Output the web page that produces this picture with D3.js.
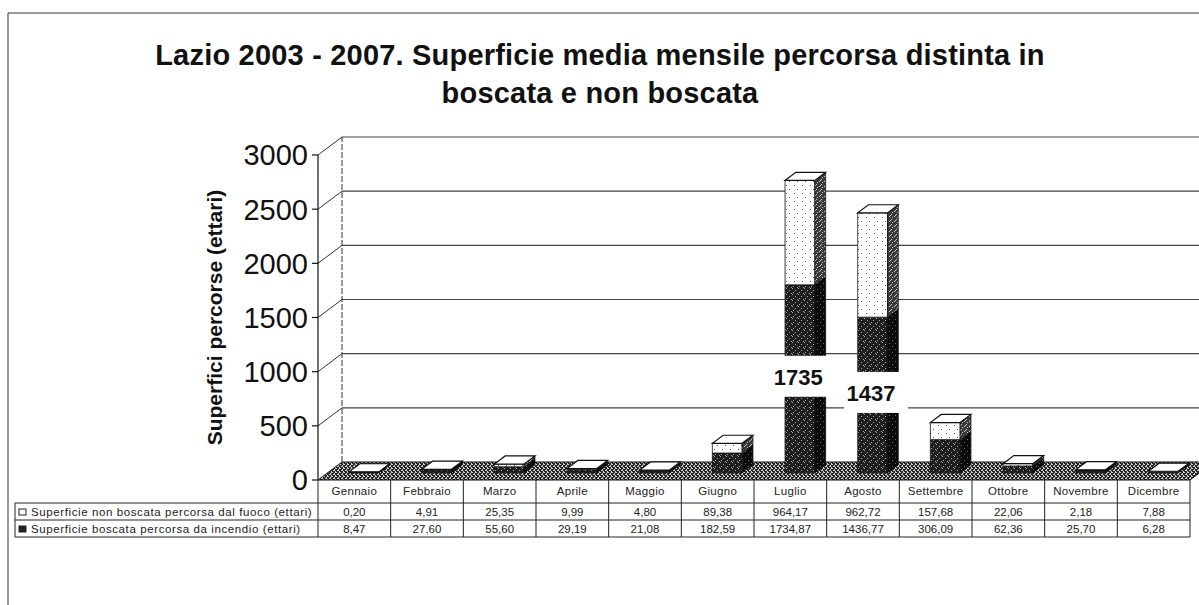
<!DOCTYPE html>
<html>
<head>
<meta charset="utf-8">
<script src="https://cdn.jsdelivr.net/npm/d3@7"></script>
<style>
  body { margin: 0; background: #fff; }
  svg { display: block; }
  text { font-family: "Liberation Sans", Arial, Helvetica, sans-serif; }
</style>
</head>
<body>
<svg id="chart" width="1199" height="605"></svg>
<script>
// Monthly burnt area, Lazio 2003-2007 (hectares)
const months = ["Gennaio", "Febbraio", "Marzo", "Aprile", "Maggio", "Giugno",
                "Luglio", "Agosto", "Settembre", "Ottobre", "Novembre", "Dicembre"];
const nonBoscata = [0.20, 4.91, 25.35, 9.99, 4.80, 89.38, 964.17, 962.72, 157.68, 22.06, 2.18, 7.88];
const boscata    = [8.47, 27.60, 55.60, 29.19, 21.08, 182.59, 1734.87, 1436.77, 306.09, 62.36, 25.70, 6.28];
const yTicks = [0, 500, 1000, 1500, 2000, 2500, 3000];
const seriesNames = [
  "Superficie non boscata percorsa dal fuoco (ettari)",
  "Superficie boscata percorsa da incendio (ettari)"
];
const labelledMonths = ["Luglio", "Agosto"];
const titleLines = [
  "Lazio 2003 - 2007. Superficie media mensile percorsa distinta in",
  "boscata e non boscata"
];
const yAxisTitle = "Superfici percorse (ettari)";

const svg = d3.select("#chart");
const W = 1199, H = 605;

// 3D projection: depth offset from front plane to back wall
const DX = 24, DY = -18;
const proj = (x, y, t) => [x + DX * t, y + DY * t];

const x = d3.scaleBand().domain(months).range([318, 1190]).paddingInner(0).paddingOuter(0);
const y = d3.scaleLinear().domain([0, 3000]).range([480, 155]);
const itFmt = v => d3.format(".2f")(v).replace(".", ",");

// ---------- patterns (dithered greys) ----------
const defs = svg.append("defs");
function dither(id, bg, fg, dots, size) {
  const p = defs.append("pattern").attr("id", id).attr("patternUnits", "userSpaceOnUse")
    .attr("width", size).attr("height", size);
  p.append("rect").attr("width", size).attr("height", size).attr("fill", bg);
  dots.forEach(([a, b]) => p.append("rect").attr("x", a).attr("y", b).attr("width", 1).attr("height", 1).attr("fill", fg));
}
dither("floorPat", "#262626", "#cfcfcf", [[0,0],[2,1],[1,2],[3,3],[3,0],[2,2]], 4);
dither("darkFront", "#1e1e1e", "#a8a8a8", [[0,0],[3,2],[5,5],[1,4]], 6);
dither("darkSide", "#0a0a0a", "#6a6a6a", [[1,1],[4,4]], 6);
dither("lightFront", "#ffffff", "#555", [[2,1],[5,5]], 8);
dither("lightSide", "#3a3a3a", "#c8c8c8", [[0,0],[2,2],[1,4],[4,1]], 5);

// ---------- frame ----------
svg.append("line").attr("x1", 8).attr("y1", 13).attr("x2", W).attr("y2", 13)
  .attr("stroke", "#333").attr("stroke-width", 1);
svg.append("line").attr("x1", 8).attr("y1", 13).attr("x2", 8).attr("y2", H)
  .attr("stroke", "#333").attr("stroke-width", 1);

// ---------- title ----------
svg.append("g").selectAll("text").data(titleLines).join("text")
  .attr("x", 600).attr("y", (d, i) => 65 + i * 38)
  .attr("text-anchor", "middle").attr("font-weight", "bold").attr("font-size", 29)
  .attr("letter-spacing", 0.2).attr("fill", "#111").text(d => d);

// ---------- walls & gridlines ----------
const x0 = x.range()[0], x1 = x.range()[1];
const walls = svg.append("g");
// back wall gridlines
walls.selectAll("line.grid").data(yTicks.filter(v => v > 0)).join("line")
  .attr("x1", d => proj(x0, y(d), 1)[0]).attr("y1", d => proj(x0, y(d), 1)[1])
  .attr("x2", W).attr("y2", d => proj(x0, y(d), 1)[1])
  .attr("stroke", "#444").attr("stroke-width", 1.2);
// side wall diagonals
walls.selectAll("line.diag").data(yTicks.filter(v => v > 0)).join("line")
  .attr("x1", x0).attr("y1", d => y(d))
  .attr("x2", d => proj(x0, y(d), 1)[0]).attr("y2", d => proj(x0, y(d), 1)[1])
  .attr("stroke", "#333").attr("stroke-width", 1);
// back wall left edge
walls.append("line")
  .attr("x1", proj(x0, y(0), 1)[0]).attr("y1", proj(x0, y(0), 1)[1])
  .attr("x2", proj(x0, y(3000), 1)[0]).attr("y2", proj(x0, y(3000), 1)[1])
  .attr("stroke", "#333").attr("stroke-width", 1).attr("stroke-dasharray", "6,2");

// floor
const floorPts = [proj(x0, y(0), 0), proj(x1, y(0), 0), proj(x1, y(0), 1), proj(x0, y(0), 1)];
walls.append("polygon").attr("points", floorPts.map(p => p.join(",")).join(" "))
  .attr("fill", "url(#floorPat)").attr("stroke", "#111").attr("stroke-width", 1);

// front value axis
const axisG = svg.append("g");
axisG.append("line").attr("x1", x0).attr("y1", y(0)).attr("x2", x0).attr("y2", y(3000))
  .attr("stroke", "#111").attr("stroke-width", 1.2);
axisG.selectAll("line.tick").data(yTicks).join("line")
  .attr("x1", x0 - 6).attr("x2", x0).attr("y1", d => y(d)).attr("y2", d => y(d))
  .attr("stroke", "#111").attr("stroke-width", 1.2);
axisG.selectAll("text").data(yTicks).join("text")
  .attr("x", x0 - 10).attr("y", d => y(d)).attr("dy", "0.36em")
  .attr("text-anchor", "end").attr("font-size", 29).attr("fill", "#111")
  .text(d => d);
svg.append("text")
  .attr("transform", `translate(222,${(y(0) + y(3000)) / 2}) rotate(-90)`)
  .attr("text-anchor", "middle").attr("font-weight", "bold").attr("font-size", 21)
  .attr("fill", "#111").text(yAxisTitle);

// ---------- 3D stacked columns ----------
const T0 = 0.4, T1 = 0.85;
const bw = x.bandwidth() * 0.41;
const poly = pts => pts.map(p => p.join(",")).join(" ");
const barsG = svg.append("g");

function box(g, cx, v0, v1, front, side, topFill) {
  const xl = cx - bw / 2, xr = cx + bw / 2;
  const yb = y(v0), yt = y(v1);
  const f = [proj(xl, yb, T0), proj(xr, yb, T0), proj(xr, yt, T0), proj(xl, yt, T0)];
  const s = [proj(xr, yb, T0), proj(xr, yb, T1), proj(xr, yt, T1), proj(xr, yt, T0)];
  g.append("polygon").attr("points", poly(f)).attr("fill", front).attr("stroke", "#111").attr("stroke-width", 0.8);
  g.append("polygon").attr("points", poly(s)).attr("fill", side).attr("stroke", "#111").attr("stroke-width", 0.8);
  if (topFill) {
    const tp = [proj(xl, yt, T0), proj(xr, yt, T0), proj(xr, yt, T1), proj(xl, yt, T1)];
    g.append("polygon").attr("points", poly(tp)).attr("fill", topFill).attr("stroke", "#111").attr("stroke-width", 1.2);
  }
}

months.forEach((m, i) => {
  const g = barsG.append("g");
  const cx = x(m) + x.bandwidth() / 2;
  box(g, cx, 0, boscata[i], "url(#darkFront)", "url(#darkSide)", null);
  box(g, cx, boscata[i], boscata[i] + nonBoscata[i], "url(#lightFront)", "url(#lightSide)", "#fff");
});

// value labels for the forested series on the peak months
const lblG = svg.append("g");
months.forEach((m, i) => {
  if (!labelledMonths.includes(m)) return;
  const cx = x(m) + x.bandwidth() / 2;
  const [lx, ly] = proj(cx, y(boscata[i] / 2), (T0 + T1) / 2);
  lblG.append("rect").attr("x", lx - 34).attr("y", ly - 19).attr("width", 64).attr("height", 41).attr("fill", "#fff");
  lblG.append("text").attr("x", lx - 7).attr("y", ly + 2).attr("dy", "0.36em")
    .attr("text-anchor", "middle").attr("font-weight", "bold").attr("font-size", 22)
    .attr("fill", "#111").text(d3.format(".0f")(boscata[i]));
});

// ---------- data table ----------
const tbl = svg.append("g").attr("font-size", 11.5).attr("fill", "#222");
const rowTop = [480, 503, 520, 537];
const tLeft = 15;
// horizontal rules
[503, 520, 537].forEach(yy => tbl.append("line").attr("x1", tLeft).attr("x2", x1)
  .attr("y1", yy).attr("y2", yy).attr("stroke", "#222").attr("stroke-width", 1));
// vertical rules
tbl.selectAll("line.v").data(months.map(m => x(m)).concat([x1])).join("line")
  .attr("x1", d => d).attr("x2", d => d).attr("y1", 480).attr("y2", 537)
  .attr("stroke", "#222").attr("stroke-width", 1);
tbl.append("line").attr("x1", tLeft).attr("x2", tLeft).attr("y1", 503).attr("y2", 537)
  .attr("stroke", "#222").attr("stroke-width", 1);
// month header
tbl.selectAll("text.m").data(months).join("text")
  .attr("x", d => x(d) + x.bandwidth() / 2).attr("y", 495)
  .attr("text-anchor", "middle").attr("letter-spacing", 0.3).text(d => d);
// series rows
[nonBoscata, boscata].forEach((vals, r) => {
  const yy = rowTop[r + 1] + 13;
  tbl.append("rect").attr("x", 19).attr("y", yy - 7).attr("width", 7).attr("height", 6)
    .attr("fill", r === 0 ? "#fff" : "#222").attr("stroke", "#222").attr("stroke-width", 1);
  tbl.append("text").attr("x", 31).attr("y", yy).attr("letter-spacing", 0.6).text(seriesNames[r]);
  tbl.selectAll(null).data(vals).join("text")
    .attr("x", (d, i) => x(months[i]) + x.bandwidth() / 2).attr("y", yy)
    .attr("text-anchor", "middle").text(d => itFmt(d));
});
</script>
</body>
</html>
